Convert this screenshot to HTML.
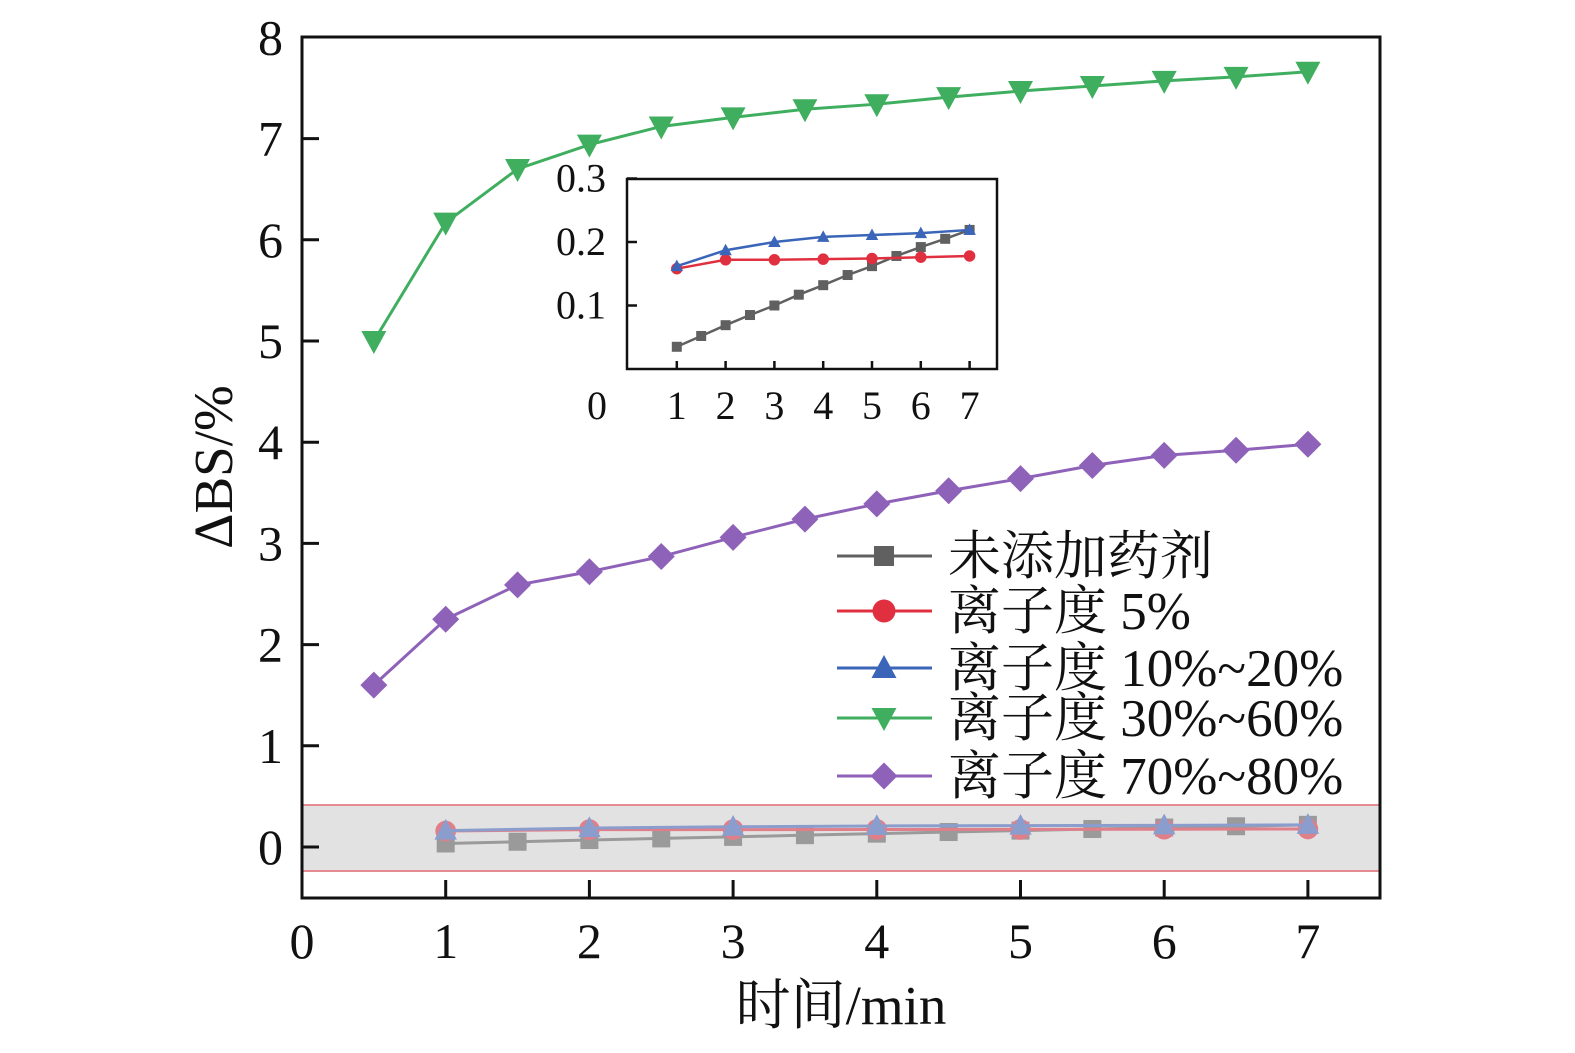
<!DOCTYPE html>
<html><head><meta charset="utf-8">
<style>
html,body{margin:0;padding:0;background:#fff;}
svg{display:block;font-family:"Liberation Serif","Noto Serif CJK SC",serif;}
</style></head>
<body>
<svg id="chart" width="1575" height="1053" viewBox="0 0 1575 1053" xmlns="http://www.w3.org/2000/svg"></svg>
<script>
// Main chart data
const xHalf = [0.5,1,1.5,2,2.5,3,3.5,4,4.5,5,5.5,6,6.5,7];
const greenVals = [5.0,6.17,6.70,6.94,7.12,7.21,7.29,7.34,7.41,7.47,7.52,7.57,7.61,7.66];
const purpleVals = [1.6,2.25,2.59,2.72,2.87,3.06,3.24,3.39,3.52,3.64,3.77,3.87,3.92,3.98];
// Inset data
const xGray = [1,1.5,2,2.5,3,3.5,4,4.5,5,5.5,6,6.5,7];
const grayVals = [0.035,0.052,0.069,0.085,0.100,0.117,0.132,0.148,0.162,0.178,0.192,0.205,0.219];
const xInt = [1,2,3,4,5,6,7];
const redVals = [0.158,0.172,0.172,0.173,0.174,0.176,0.178];
const blueVals = [0.162,0.187,0.200,0.208,0.211,0.214,0.219];
const mainXTicks = ['0','1','2','3','4','5','6','7'];
const mainYTicks = ['0','1','2','3','4','5','6','7','8'];
const insetXTicks = ['0','1','2','3','4','5','6','7'];
const insetYTicks = ['0.1','0.2','0.3'];
const legendLabels = ['未添加药剂','离子度 5%','离子度 10%~20%','离子度 30%~60%','离子度 70%~80%'];

const NS='http://www.w3.org/2000/svg';
const svg=document.getElementById('chart');
function mk(tag,attrs,parent){const e=document.createElementNS(NS,tag);for(const k in attrs)e.setAttribute(k,attrs[k]);(parent||svg).appendChild(e);return e;}

const C={gray:'#606060',red:'#e03040',blue:'#3a65b8',green:'#3fae5f',purple:'#8e62b8'};
const mx=v=>302+v*143.7;
const my=v=>847-v*101.2;
const ix=v=>628+v*48.8;
const iy=v=>369-v*635;

function marker(type,cx,cy,s,color,parent,op){
  let e;
  if(type==='square') e=mk('rect',{x:cx-s,y:cy-s,width:2*s,height:2*s,fill:color},parent);
  else if(type==='circle') e=mk('circle',{cx:cx,cy:cy,r:s*1.15,fill:color},parent);
  else if(type==='up') e=mk('polygon',{points:`${cx},${cy-s*1.3} ${cx-s*1.25},${cy+s} ${cx+s*1.25},${cy+s}`,fill:color},parent);
  else if(type==='down') e=mk('polygon',{points:`${cx},${cy+s*1.3} ${cx-s*1.25},${cy-s} ${cx+s*1.25},${cy-s}`,fill:color},parent);
  else e=mk('polygon',{points:`${cx},${cy-s*1.35} ${cx+s*1.35},${cy} ${cx},${cy+s*1.35} ${cx-s*1.35},${cy}`,fill:color},parent);
  if(op) e.setAttribute('opacity',op);
  return e;
}
function series(name,xs,ys,fx,fy,color,type,s,w,op){
  const g=mk('g',{});
  
  
  const pl=mk('polyline',{points:xs.map((x,i)=>fx(x)+','+fy(ys[i])).join(' '),fill:'none',stroke:color,'stroke-width':w},g);
  if(op) pl.setAttribute('opacity',op);
  xs.forEach((x,i)=>{const m=marker(type,fx(x),fy(ys[i]),s,color,g,op);
    
    });
}

const band=mk('rect',{x:302,y:805,width:1078,height:66,fill:'#e2e2e2',stroke:'#e58a90','stroke-width':2});



series('series-none-main',xGray,grayVals,mx,my,'#9a9a9a','square',9,3);
series('series-5-main',xInt,redVals,mx,my,'#e07f8a','circle',9,3);
series('series-10-20-main',xInt,blueVals,mx,my,'#8a9dcc','up',9,3);
series('series-30-60',xHalf,greenVals,mx,my,C.green,'down',10,3);
series('series-70-80',xHalf,purpleVals,mx,my,C.purple,'diamond',10,3);

const frame=mk('rect',{x:302,y:37,width:1078,height:861,fill:'none',stroke:'#111','stroke-width':3});


mainXTicks.forEach((t,i)=>{
  if(i>0){const l=mk('line',{x1:mx(i),x2:mx(i),y1:898,y2:880,stroke:'#111','stroke-width':3});
    }
  const tx=mk('text',{x:mx(i),y:958,'font-size':50,'text-anchor':'middle',fill:'#111'});
  tx.textContent=t;
  
  
});
mainYTicks.forEach((t,i)=>{
  if(i<8){const l=mk('line',{x1:302,x2:319,y1:my(i),y2:my(i),stroke:'#111','stroke-width':3});
    }
  const tx=mk('text',{x:283,y:my(i)+17,'font-size':50,'text-anchor':'end',fill:'#111'});
  tx.textContent=t;
  
  
});
const xt=mk('text',{x:841,y:1024,'font-size':55,'text-anchor':'middle',fill:'#111'});
xt.textContent='时间/min';


const yt=mk('text',{x:0,y:0,'font-size':55,'text-anchor':'middle',fill:'#111',transform:'translate(232,467) rotate(-90)'});
yt.textContent='ΔBS/%';



const ig=mk('g',{});


mk('rect',{x:627,y:179,width:370,height:190,fill:'#fff'},ig);
series('series-none-inset',xGray,grayVals,ix,iy,C.gray,'square',5,2.5);
series('series-5-inset',xInt,redVals,ix,iy,C.red,'circle',5,2.5);
series('series-10-20-inset',xInt,blueVals,ix,iy,C.blue,'up',5,2.5);
const iframe=mk('rect',{x:627,y:179,width:370,height:190,fill:'none',stroke:'#111','stroke-width':2.5});


insetXTicks.forEach((t,i)=>{
  if(i>0){const l=mk('line',{x1:ix(i),x2:ix(i),y1:369,y2:361,stroke:'#111','stroke-width':2.5});
    }
  const tx=mk('text',{x:i===0?597:ix(i),y:419,'font-size':40,'text-anchor':'middle',fill:'#111'});
  tx.textContent=t;
  
  
});
insetYTicks.forEach((t,i)=>{
  const v=(i+1)*0.1;
  const l=mk('line',{x1:627,x2:637,y1:iy(v),y2:iy(v),stroke:'#111','stroke-width':2.5});
  
  const tx=mk('text',{x:606,y:iy(v)+13,'font-size':40,'text-anchor':'end',fill:'#111'});
  tx.textContent=t;
  
  
});

const lg=mk('g',{});


const lcol=[C.gray,C.red,C.blue,C.green,C.purple];
const ltype=['square','circle','up','down','diamond'];
const lys=[556,611,668,718,776];
legendLabels.forEach((lab,i)=>{
  const g=mk('g',{},lg);
  
  
  mk('line',{x1:837,x2:932,y1:lys[i],y2:lys[i],stroke:lcol[i],'stroke-width':3},g);
  marker(ltype[i],884,lys[i],10,lcol[i],g);
  const tx=mk('text',{x:948,y:lys[i]+18,'font-size':53,fill:'#111'},g);
  tx.textContent=lab;
});
</script>
</body></html>
